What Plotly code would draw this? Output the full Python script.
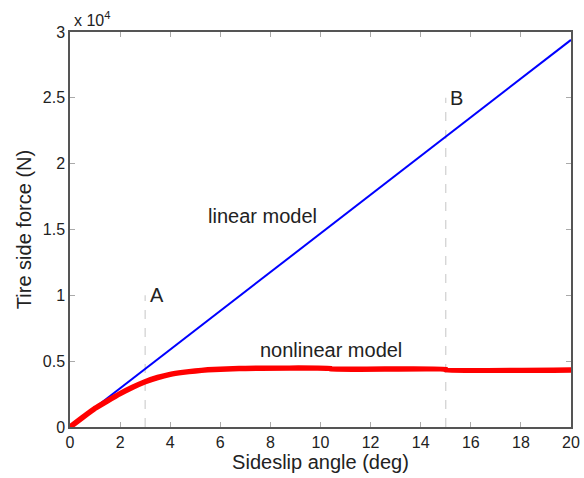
import plotly.graph_objects as go

# Data (N vs deg)
lin_x = [0, 20]
lin_y = [0, 29400]

nl_x = [0, 0.5, 1, 1.5, 2, 2.5, 3, 3.5, 4, 4.5, 5, 5.5, 6, 6.5, 7, 10.4, 10.4, 15, 15, 20]
nl_y = [0, 720, 1420, 1990, 2540, 3020, 3440, 3760, 4000, 4150, 4260, 4340, 4390, 4420, 4450, 4450, 4400, 4400, 4330, 4330]

y_ticks = [0, 5000, 10000, 15000, 20000, 25000, 30000]
y_tick_text = ["0", "0.5", "1", "1.5", "2", "2.5", "3"]
x_ticks = [0, 2, 4, 6, 8, 10, 12, 14, 16, 18, 20]

marker_A = (3, 10000)
marker_B = (15, 25000)

font = "Liberation Sans, Arial, Helvetica, sans-serif"

fig = go.Figure()
for (mx, my) in [marker_A, marker_B]:
    fig.add_trace(go.Scatter(x=[mx, mx], y=[0, my], mode="lines",
                             line=dict(color="#cfcfcf", width=1.2, dash="dash"),
                             hoverinfo="skip", showlegend=False))
fig.add_trace(go.Scatter(x=lin_x, y=lin_y, mode="lines",
                         line=dict(color="#0000ff", width=2), showlegend=False))
fig.add_trace(go.Scatter(x=nl_x, y=nl_y, mode="lines",
                         line=dict(color="#ff0000", width=5.5, shape="spline", smoothing=0.3),
                         showlegend=False))

ann = [
    dict(x=marker_A[0] + 0.1, y=marker_A[1], text="A", xanchor="left", yanchor="middle"),
    dict(x=marker_B[0] + 0.1, y=marker_B[1], text="B", xanchor="left", yanchor="middle"),
    dict(x=7.7, y=16000, text="linear model", xanchor="center", yanchor="middle"),
    dict(x=10.4, y=5850, text="nonlinear model", xanchor="center", yanchor="middle"),
]
for a in ann:
    fig.add_annotation(**a, showarrow=False, font=dict(family=font, size=20, color="#222"))

fig.add_annotation(xref="paper", yref="paper", x=0.0, y=1.0, xshift=2, yshift=1,
                   text="x 10<sup>4</sup>", showarrow=False, xanchor="left", yanchor="bottom",
                   font=dict(family=font, size=16, color="#222"))

axis_common = dict(showgrid=False, zeroline=False, showline=True, linecolor="#555",
                   linewidth=1.5, mirror="ticks", ticks="inside", ticklen=5,
                   tickcolor="#aaa", automargin=False,
                   tickfont=dict(family=font, size=16, color="#222"))

fig.update_layout(
    width=584, height=478,
    margin=dict(l=70, r=13, t=32, b=51, autoexpand=False),
    plot_bgcolor="white", paper_bgcolor="white",
    xaxis=dict(range=[0, 20], tickvals=x_ticks,
               title=dict(text="Sideslip angle (deg)", font=dict(family=font, size=20, color="#222"), standoff=4),
               **axis_common),
    yaxis=dict(range=[0, 30000], tickvals=y_ticks, ticktext=y_tick_text,
               title=dict(text="Tire side force (N)", font=dict(family=font, size=20, color="#222"), standoff=6),
               **axis_common),
)

fig.write_html("out.html", config={"displayModeBar": False},
               post_script="document.body.style.margin='0';document.body.style.overflow='hidden';")
